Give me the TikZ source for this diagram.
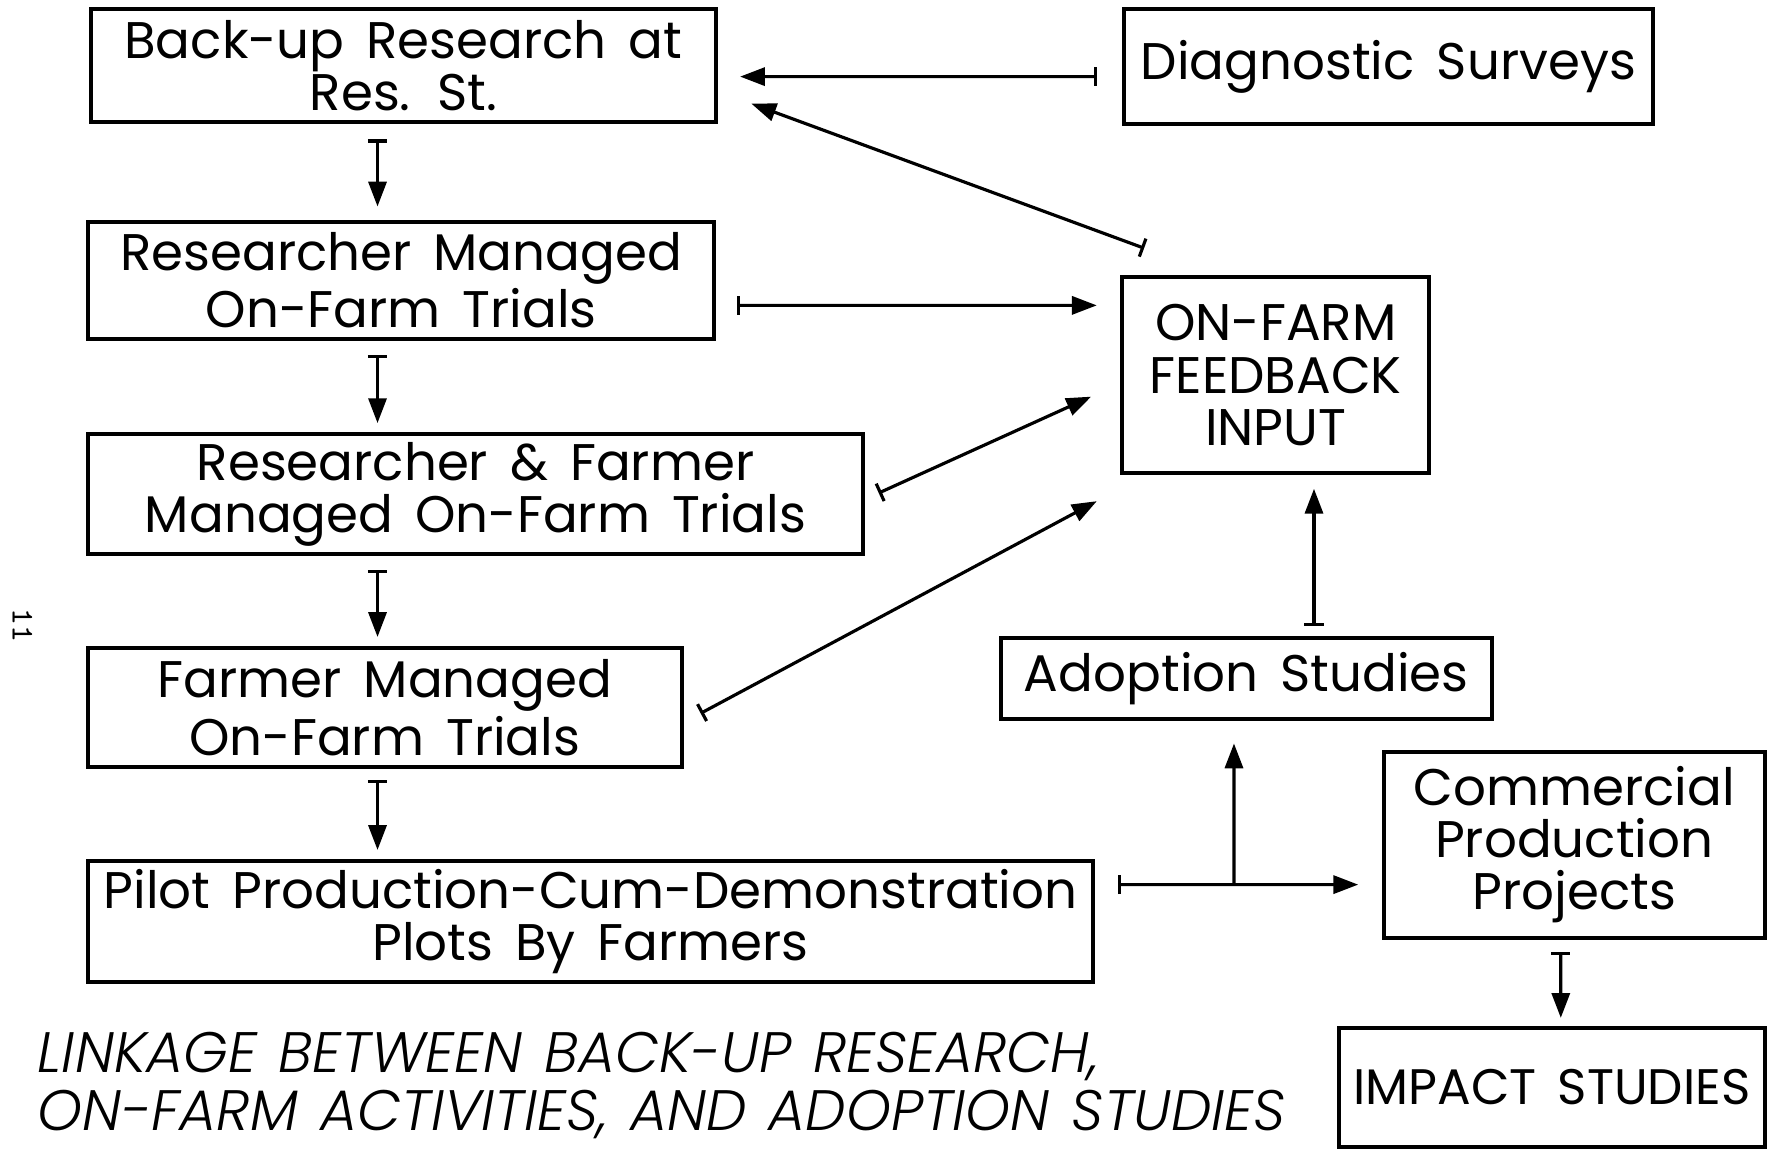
\documentclass[tikz,border=0pt]{standalone}
\usepackage{fontspec}
\setmainfont{Poppins}[WordSpace=1.6]
\newfontfamily\capfont{Poppins}[UprightFont=* Light Italic, WordSpace=1.3]
\usetikzlibrary{arrows.meta,calc}

\tikzset{
  stage/.style={draw, line width=1pt, align=center, inner sep=2pt,
    font=\fontsize{13}{13.2}\selectfont},
  sz/.style 2 args={minimum width=#1cm, minimum height=#2cm},
  link/.style={line width=0.8pt,
    {Bar[width=0.17cm]}-{Triangle[length=0.22cm,width=0.16cm]}}
}

\begin{document}
\begin{tikzpicture}
  \useasboundingbox (0,0) rectangle (15.68,-10.20);

  % left column
  \node[stage, sz={5.54}{1.00}] (backup) at (3.58,-0.58) {Back-up Research at\\Res. St.};
  \node[stage, sz={5.56}{1.04}] (rmot) at (3.56,-2.49) {Researcher Managed\\On-Farm Trials};
  \node[stage, sz={6.88}{1.05}] (rfmot) at (4.22,-4.385) {Researcher \& Farmer\\Managed On-Farm Trials};
  \node[stage, sz={5.27}{1.06}] (fmot) at (3.415,-6.28) {Farmer Managed\\On-Farm Trials};
  \node[stage, sz={8.92}{1.05}] (pilot) at (5.24,-8.175) {Pilot Production-Cum-Demonstration\\Plots By Farmers};

  % right column
  \node[stage, sz={4.70}{1.02}] (diag) at (12.32,-0.59) {Diagnostic Surveys};
  \node[stage, sz={2.72}{1.74}] (feedback) at (11.32,-3.33) {ON-FARM\\FEEDBACK\\INPUT};
  \node[stage, sz={4.36}{0.72}] (adopt) at (11.06,-6.02) {Adoption Studies};
  \node[stage, sz={3.38}{1.65}] (comm) at (13.97,-7.495) {Commercial\\Production\\Projects};
  \node[stage, sz={3.78}{1.06}, font=\fontsize{12.6}{13}\selectfont] (impact) at (13.77,-9.65) {IMPACT STUDIES};

  \node[anchor=north west, align=left, inner sep=0pt,
    font=\capfont\fontsize{14.4}{14.8}\selectfont] (title) at (0.33,-9.15)
    {LINKAGE BETWEEN BACK-UP RESEARCH,\\ON-FARM ACTIVITIES, AND ADOPTION STUDIES};
  \node[rotate=-90, font=\ttfamily\footnotesize] (pageno) at (0.2,-5.55) {11};

  \coordinate (spine) at (3.35,0);
  \coordinate (split) at (10.95,-7.85);

  % downward chain
  \draw[link] ($(spine |- backup.south)+(0,-0.14)$) -- ($(spine |- rmot.north)+(0,0.12)$);
  \draw[link] ($(spine |- rmot.south)+(0,-0.12)$) -- ($(spine |- rfmot.north)+(0,0.08)$);
  \draw[link] ($(spine |- rfmot.south)+(0,-0.12)$) -- ($(spine |- fmot.north)+(0,0.08)$);
  \draw[link] ($(spine |- fmot.south)+(0,-0.09)$) -- ($(spine |- pilot.north)+(0,0.08)$);

  % feedback links
  \draw[link] ($(diag.west)+(-0.22,-0.09)$) -- ($(backup.east)+(0.20,-0.10)$);
  \draw[link] ($(feedback.north west)+(0.21,0.24)$) -- ($(backup.east)+(0.30,-0.34)$);
  \draw[link] ($(rmot.east)+(0.18,-0.22)$) -- ($(feedback.west)+(-0.21,0.62)$);
  \draw[link] ($(rfmot.east)+(0.12,0.01)$) -- ($(feedback.west)+(-0.26,-0.19)$);
  \draw[link] ($(fmot.east)+(0.15,-0.05)$) -- ($(feedback.south west)+(-0.21,-0.23)$);
  \draw[link] ($(adopt.north)+(0.60,0.09)$) -- ($(feedback.south)+(0.34,-0.12)$);

  % pilot outputs
  \draw[link] ($(pilot.east)+(0.20,0.325)$) -- ($(comm.west)+(-0.21,-0.355)$);
  \draw[-{Triangle[length=0.22cm,width=0.16cm]}, line width=0.8pt] (split) -- ($(adopt.south)+(-0.11,-0.20)$);
  \draw[link] ($(comm.south)+(-0.12,-0.11)$) -- ($(impact.north)+(0.08,0.07)$);
\end{tikzpicture}
\end{document}
